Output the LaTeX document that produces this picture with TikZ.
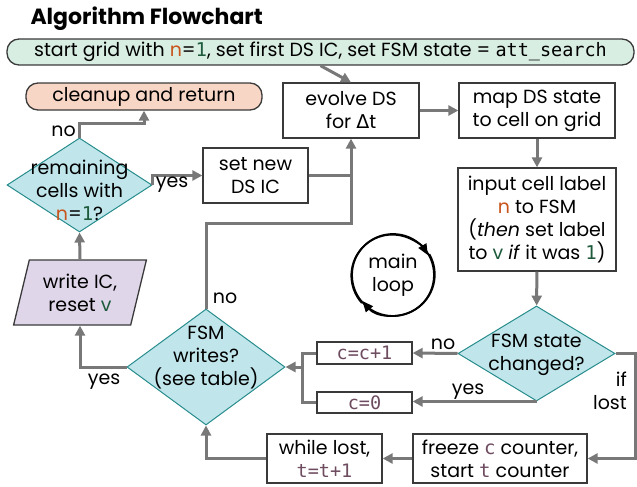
\documentclass[tikz,border=0pt]{standalone}
\usepackage{fontspec}
\setmainfont{Poppins}
\setmonofont{DejaVu Sans Mono}
\newfontfamily\symfont{DejaVu Sans}
\usetikzlibrary{positioning, calc, shapes.geometric, arrows.meta}

\definecolor{boxline}{RGB}{58,58,58}
\definecolor{arrowgray}{RGB}{120,120,120}
\definecolor{startfill}{RGB}{217,238,227}
\definecolor{endfill}{RGB}{248,214,198}
\definecolor{cyanfill}{RGB}{192,230,236}
\definecolor{tealline}{RGB}{40,140,140}
\definecolor{purplefill}{RGB}{224,214,234}
\definecolor{nred}{RGB}{200,85,30}
\definecolor{dgreen}{RGB}{30,90,60}
\definecolor{ctr}{RGB}{110,75,95}

\newcommand\nn{\textcolor{nred}{n}}
\newcommand\one{\textcolor{dgreen}{\texttt{1}}}
\newcommand\vv{\textcolor{dgreen}{v}}
\newcommand\cvar{\textcolor{ctr}{\texttt{c}}}
\newcommand\tvar{\textcolor{ctr}{\texttt{t}}}

\tikzset{
  box/.style={draw=boxline, line width=1.3pt, fill=white, align=center, inner sep=0pt},
  term/.style={box, rounded corners=12pt},
  decide/.style={diamond, draw=tealline, fill=cyanfill, line width=1pt, inner sep=0pt},
  flow/.style={draw=arrowgray, line width=3pt, -{Triangle[length=10pt,width=10pt]}},
  joinline/.style={draw=arrowgray, line width=3pt},
  looparrow/.style={line width=1.8pt, -{Triangle[length=11pt,width=9pt]}},
  lbl/.style={inner sep=1pt},
  codebox/.style={box, font=\fontsize{18.5}{23}\ttfamily, text=ctr}
}

\begin{document}
\begin{tikzpicture}[x=1pt, y=-1pt, font=\fontsize{19}{23}\selectfont]
\useasboundingbox (0,0) rectangle (637,487);

% nodes
\node[anchor=west, font=\fontsize{22}{26}\selectfont\bfseries] (title) at (27,19) {Algorithm Flowchart};
\node[term, fill=startfill, minimum width=627pt, minimum height=26pt] (start) at (320.5,52)
  {start grid with \nn=\one, set first DS IC, set FSM state = {\fontsize{18.5}{23}\ttfamily att\_search}};
\node[term, fill=endfill, minimum width=236pt, minimum height=27pt] (cleanup) at (144,96.5) {cleanup and return};
\node[box, minimum width=136pt, minimum height=55pt] (evolve) at (351,110.5) {evolve DS\\for {\symfont Δ}t};
\node[box, minimum width=156pt, minimum height=55pt] (map) at (537,110.5) {map DS state\\to cell on grid};
\node[box, minimum width=105pt, minimum height=55pt] (setic) at (255.5,175.5) {set new\\DS IC};
\node[box, minimum width=158pt, minimum height=103pt] (input) at (537,219.5)
  {input cell label\\\nn{} to FSM\\(\textit{then} set label\\to \vv{} \textit{if} it was \one)};

\node[decide, minimum width=145pt, minimum height=94pt] (remain) at (79.5,185) {};
\node[align=center] (remaintxt) at (79.5,190.5) {remaining\\cells with\\\nn=\one?};
\node[decide, minimum width=158pt, minimum height=116pt] (writes) at (206,367) {};
\node[align=center] (writestxt) at (206,358) {FSM\\writes?\\(see table)};
\node[decide, minimum width=157pt, minimum height=95pt] (change) at (536.5,353.5) {};
\node[align=center] (changetxt) at (536.5,354.5) {FSM state\\changed?};

\node[trapezium, trapezium left angle=73, trapezium right angle=107, trapezium stretches=true,
  draw=boxline, line width=1.3pt, fill=purplefill, align=center, inner sep=0pt,
  minimum width=134pt, minimum height=65pt] (writeic) at (80,292.5) {write IC,\\reset \vv};

\node[codebox, minimum width=95pt, minimum height=22pt] (cplus) at (364.5,353) {c=c+1};
\node[codebox, minimum width=95pt, minimum height=21pt] (czero) at (364.5,402.5) {c=0};
\node[box, minimum width=115pt, minimum height=49pt] (while) at (324.5,458.5)
  {while lost,\\\textcolor{ctr}{\fontsize{18.5}{23}\ttfamily t=t+1}};
\node[box, minimum width=174pt, minimum height=49pt] (freeze) at (500,458.5) {freeze \cvar{} counter,\\start \tvar{} counter};

\node[circle, draw, line width=1.8pt, minimum size=82pt, align=center, inner sep=0pt] (loop) at (393,275) {main\\loop};
\draw[looparrow] (loop.222) arc[start angle=222, end angle=30, radius=41pt];
\draw[looparrow] (loop.30) arc[start angle=30, end angle=-140, radius=41pt];

% connectors
\coordinate (cjoin) at (302,367);
\coordinate (lostturn) at (635,353.5);
\coordinate (noturn) at (351,223);
\draw[flow] (start.south) -- (evolve.north);
\draw[flow] (evolve) -- (map);
\draw[flow] (map) -- (input);
\draw[flow] (input) -- (change);
\draw[flow] (change.west) -- (cplus.east);
\draw[flow] (change.south) -- (change.south -| czero.east);
\draw[joinline] (cplus.west) -| (cjoin) |- (czero.west);
\draw[flow] (cjoin) -- (writes.east);
\draw[flow] (change.east) -- (lostturn) |- (freeze.east);
\draw[flow] (freeze) -- (while);
\draw[flow] (while.west) -| (writes.south);
\draw[flow] (writes.west) -| (writeic.south);
\draw[flow] (writeic.north) -- (remain.south);
\draw[flow] (remain.east) |- (setic.west);
\draw[flow] (remain.north) -- ++(0,-14) -| (cleanup.south);
\draw[flow] (writes.north) |- (noturn) -- (evolve.south);
\draw[joinline] (setic.east) -- (setic.east -| evolve.south);

% labels
\node[lbl] (noend) at (63.5,131) {no};
\node[lbl] (yesnew) at (172,185) {yes};
\node[lbl] (nowrite) at (225,298) {no};
\node[lbl] (nochange) at (443,344) {no};
\node[lbl] (yeschange) at (468,392) {yes};
\node[lbl, anchor=east, align=right] (iflost) at (628,391) {if\\lost};
\node[lbl] (yeswrite) at (104,382) {yes};
\end{tikzpicture}
\end{document}
